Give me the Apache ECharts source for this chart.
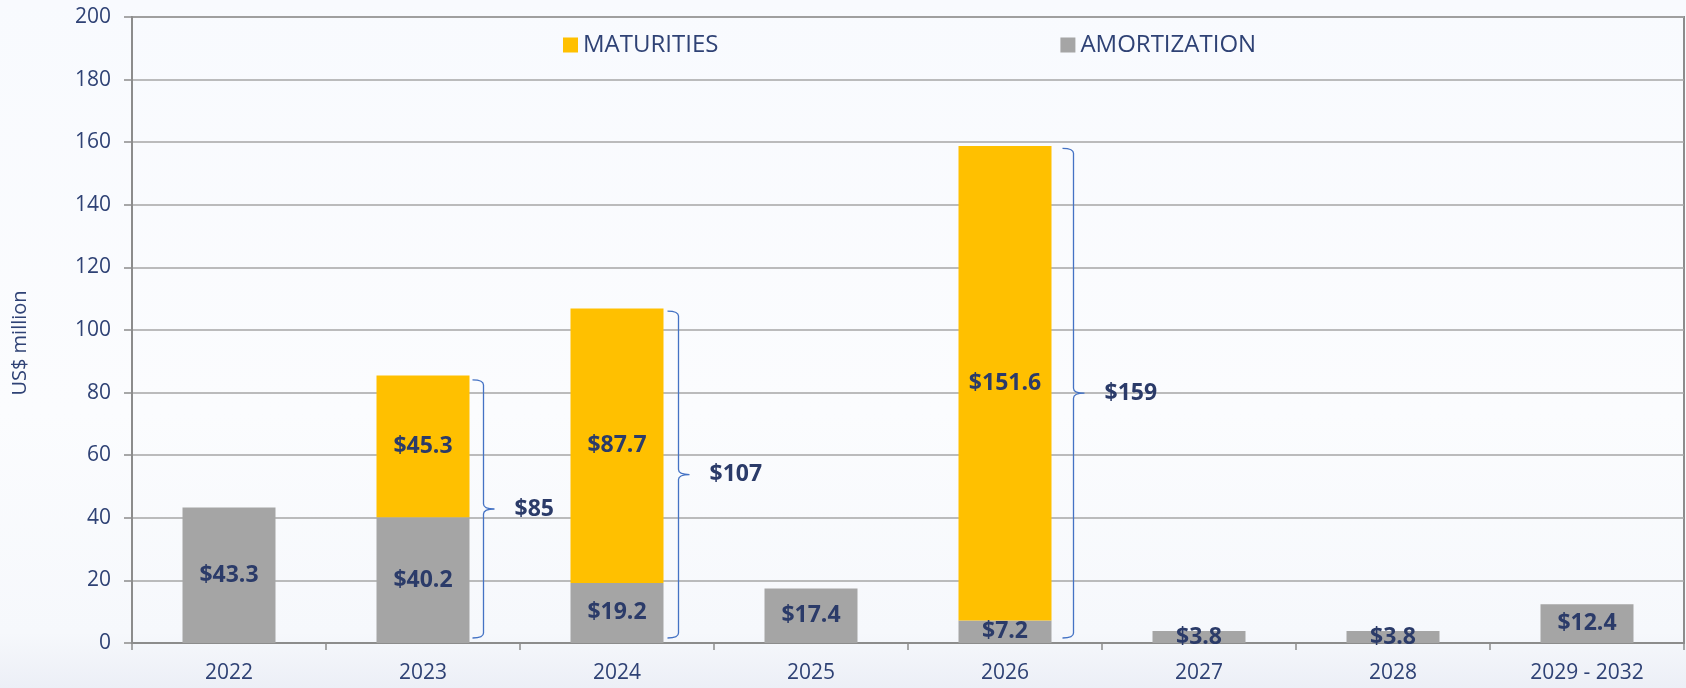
<!DOCTYPE html>
<html>
<head>
<meta charset="utf-8">
<script src="https://cdn.jsdelivr.net/npm/echarts@6/dist/echarts.min.js"></script>
<style>
  html, body { margin: 0; padding: 0; }
  body { background: linear-gradient(#f8fafe 0%, #fbfcfe 60%, #f6f8fc 92%, #eceff6 100%); }
  #chart { width: 1686px; height: 688px; }
</style>
</head>
<body>
<div id="chart"></div>
<script>
// 年份分类
var categories = ['2022', '2023', '2024', '2025', '2026', '2027', '2028', '2029 - 2032'];
// 摊销 / 到期 (US$ million)
var amortization = [43.3, 40.2, 19.2, 17.4, 7.2, 3.8, 3.8, 12.4];
var maturities = ['-', 45.3, 87.7, '-', 151.6, '-', '-', '-'];
// 大括号合计
var braceIndex = [1, 2, 4];
var braceTotals = [85, 107, 159];
var yTicks = [0, 200, 20];

var navy = '#2f4275';
var labelNavy = '#2b3b69';
var barWidth = 93;
var braceGap = [14, 15, 22];

var myChart = echarts.init(document.getElementById('chart'));

var dataLabel = {
    show: true,
    position: 'inside',
    fontFamily: 'Open Sans',
    fontWeight: 'bold',
    fontSize: 23,
    color: labelNavy,
    formatter: function (p) { return '$' + p.value.toFixed(1); }
};

myChart.setOption({
    animation: false,
    backgroundColor: 'transparent',
    grid: {
        left: 132, right: 2, top: 17, bottom: 45,
        show: true, borderColor: '#8c8c8c', borderWidth: 2
    },
    legend: {
        data: ['MATURITIES', 'AMORTIZATION'],
        left: 558, top: 28,
        itemWidth: 15, itemHeight: 15, itemGap: 342,
        icon: 'rect',
        textStyle: { fontFamily: 'Open Sans', fontSize: 24, color: navy }
    },
    xAxis: {
        type: 'category',
        data: categories,
        axisLine: { lineStyle: { color: '#8c8c8c', width: 2 } },
        axisTick: { show: true, length: 7, lineStyle: { color: '#8c8c8c', width: 1.5 } },
        axisLabel: { margin: 20, fontFamily: 'Open Sans', fontSize: 21, color: navy }
    },
    yAxis: {
        type: 'value',
        min: yTicks[0], max: yTicks[1], interval: yTicks[2],
        name: 'US$ million',
        nameLocation: 'middle',
        nameGap: 102,
        nameTextStyle: { fontFamily: 'Open Sans', fontSize: 20, color: navy, padding: [0, 26, 0, 0] },
        axisLine: { show: true, lineStyle: { color: '#8c8c8c', width: 2 } },
        axisTick: { show: true, length: 8, lineStyle: { color: '#8c8c8c', width: 1.5 } },
        axisLabel: { margin: 21, fontFamily: 'Open Sans', fontSize: 21, color: navy },
        splitLine: { lineStyle: { color: '#a6a6a6', width: 1.5 } }
    },
    series: [{
        name: 'AMORTIZATION',
        type: 'bar',
        stack: 'debt',
        barWidth: barWidth,
        itemStyle: { color: '#a5a5a5' },
        label: dataLabel,
        data: amortization
    }, {
        name: 'MATURITIES',
        type: 'bar',
        stack: 'debt',
        barWidth: barWidth,
        itemStyle: { color: '#ffc000' },
        label: dataLabel,
        data: maturities
    }, {
        // 右侧大括号 + 合计
        type: 'custom',
        silent: true,
        data: braceIndex.map(function (c, k) { return [c, braceTotals[k], k]; }),
        renderItem: function (params, api) {
            var top = api.coord([api.value(0), api.value(1)]);
            var bot = api.coord([api.value(0), 0]);
            var x = top[0] + barWidth / 2 + braceGap[api.value(2)];
            var y0 = top[1] + 3, y1 = bot[1] - 5, ym = (y0 + y1) / 2;
            var h = 11, r = 5;
            var d = 'M' + (x - h) + ' ' + y0 + ' Q' + x + ' ' + y0 + ' ' + x + ' ' + (y0 + r) +
                ' L' + x + ' ' + (ym - r) + ' Q' + x + ' ' + ym + ' ' + (x + h) + ' ' + ym +
                ' Q' + x + ' ' + ym + ' ' + x + ' ' + (ym + r) +
                ' L' + x + ' ' + (y1 - r) + ' Q' + x + ' ' + y1 + ' ' + (x - h) + ' ' + y1;
            return {
                type: 'group',
                children: [{
                    type: 'path',
                    shape: { pathData: d },
                    style: { stroke: '#4472c4', lineWidth: 1.3, fill: null }
                }, {
                    type: 'text',
                    style: {
                        text: '$' + api.value(1),
                        x: x + 31, y: ym,
                        verticalAlign: 'middle',
                        font: 'bold 23px "Open Sans"',
                        fill: labelNavy
                    }
                }]
            };
        }
    }]
}, true);
</script>
</body>
</html>
